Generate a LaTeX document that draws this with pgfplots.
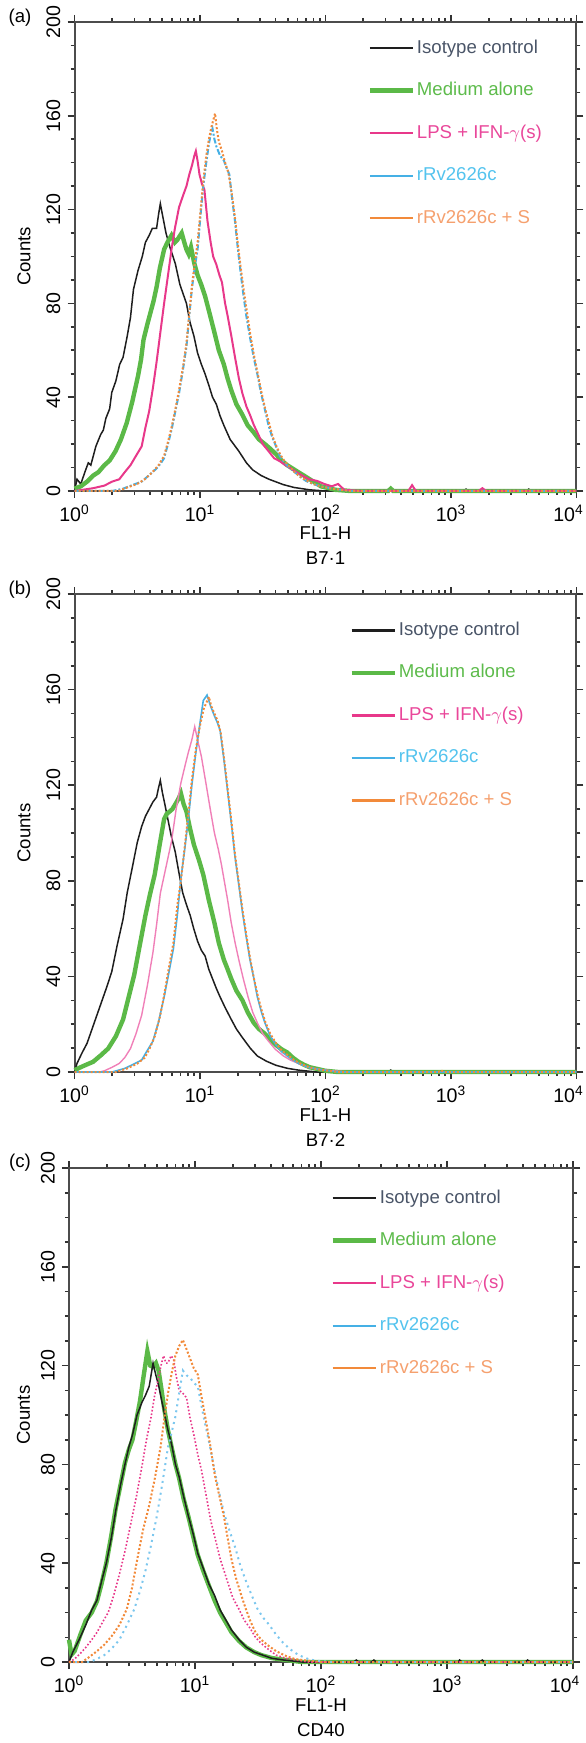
\documentclass[border=0pt]{standalone}
\usepackage{fontspec}
\setmainfont{Liberation Sans}
\usepackage{pgfplots}
\pgfplotsset{compat=1.18}

\definecolor{cBlack}{HTML}{1E1E1E}
\definecolor{cGreen}{HTML}{5BB947}
\definecolor{cPink}{HTML}{E8388A}
\definecolor{cPinkL}{HTML}{F080B8}
\definecolor{cBlue}{HTML}{45B0E5}
\definecolor{cBlueL}{HTML}{7CC7EE}
\definecolor{cOrange}{HTML}{F28A3A}
\definecolor{tIso}{HTML}{4A5568}
\definecolor{tMed}{HTML}{5DBB4B}
\definecolor{tLps}{HTML}{E9479A}
\definecolor{tRv}{HTML}{53C3EE}
\definecolor{tRvS}{HTML}{F5A06E}

\newcommand{\fsz}{\fontsize{9.3}{11}\selectfont}

\pgfplotsset{
  facs/.style={
    scale only axis,
    xmin=0, xmax=4, ymin=0, ymax=200,
    xtick={0,1,2,3,4},
    xticklabels={10\textsuperscript{0},10\textsuperscript{1},10\textsuperscript{2},10\textsuperscript{3},10\textsuperscript{4}\hspace*{8pt}},
    minor xtick={0.301,0.477,0.602,0.699,0.778,0.845,0.903,0.954,
                 1.301,1.477,1.602,1.699,1.778,1.845,1.903,1.954,
                 2.301,2.477,2.602,2.699,2.778,2.845,2.903,2.954,
                 3.301,3.477,3.602,3.699,3.778,3.845,3.903,3.954},
    ytick={0,40,80,120,160,200},
    minor y tick num=3,
    tick align=outside,
    major tick length=3.5pt, minor tick length=2pt,
    tick style={color=gray!40!black, line width=0.8pt},
    axis line style={color=gray!60!black, line width=1pt},
    /pgf/number format/assume math mode=true,
    tick label style={font=\fontsize{9.8}{11}\selectfont},
    yticklabel style={rotate=90, anchor=south},
    label style={font=\fsz},
    ylabel={Counts},
    clip=false,
    legend cell align=left,
    legend image code/.code={\draw[##1] (0pt,0pt) -- (21.5pt,0pt);},
    legend style={draw=none, fill=none, anchor=west, inner sep=0pt,
      row sep=10.25pt, font=\fsz,
      nodes={text height=7pt, text depth=2pt, inner sep=1pt}},
  }
}

\begin{document}
\begin{tikzpicture}
\useasboundingbox (0,0) rectangle (292.5pt,-871.5pt);

% ---------------- (a) B7-1 ----------------
\begin{axis}[facs, at={(37.25pt,-11pt)}, anchor=north west,
  width=251pt, height=234.5pt,
  ylabel style={at={(axis description cs:-0.1006,0.5)}, anchor=center},
  legend style={at={(axis description cs:0.583,0.763)}}]
\addlegendimage{cBlack, line width=1.3pt}
\addlegendentry{\textcolor{tIso}{Isotype control}}
\addlegendimage{cGreen, line width=2.2pt}
\addlegendentry{\textcolor{tMed}{Medium alone}}
\addlegendimage{cPink, line width=1.2pt}
\addlegendentry{\textcolor{tLps}{LPS + IFN-$\gamma$(s)}}
\addlegendimage{cBlue, line width=1pt}
\addlegendentry{\textcolor{tRv}{rRv2626c}}
\addlegendimage{cOrange, line width=1.2pt}
\addlegendentry{\textcolor{tRvS}{rRv2626c + S}}

\addplot[cBlack, line width=0.75pt, forget plot] coordinates {
(0,0) (0.02,5) (0.05,3) (0.089,9) (0.11,12) (0.13,11) (0.17,19) (0.208,24) (0.23,26) (0.25,31) (0.28,35) (0.297,42) (0.33,47) (0.36,54) (0.387,57) (0.42,66) (0.446,74) (0.47,86) (0.506,94) (0.54,100) (0.565,106) (0.595,109) (0.62,112) (0.654,112) (0.67,118) (0.684,122.5) (0.70,118) (0.729,110) (0.76,104) (0.803,97) (0.84,88) (0.892,80) (0.92,72) (0.952,66) (0.98,59) (1.011,54) (1.04,50) (1.071,45) (1.10,40) (1.130,37) (1.16,32) (1.190,28) (1.24,22) (1.309,17) (1.37,12) (1.42,9) (1.487,6.6) (1.55,5) (1.60,4) (1.665,2.7) (1.75,1.5) (1.874,0.5) (2.0,0) (3.1,0) (3.12,0.8) (3.14,0) (3.6,0) (3.62,0.8) (3.64,0) (4,0)};
\addplot[cGreen, line width=2.2pt, forget plot] coordinates {
(0,1) (0.05,2) (0.10,4) (0.149,6.6) (0.19,8) (0.238,11) (0.28,13) (0.327,17) (0.37,22) (0.416,29) (0.46,38) (0.506,49) (0.53,56) (0.55,64.5) (0.58,71) (0.61,77) (0.63,81) (0.654,87) (0.68,95) (0.714,103) (0.74,106) (0.773,109) (0.80,106) (0.818,107) (0.854,110) (0.875,106) (0.892,103) (0.91,101) (0.928,104) (0.955,97) (0.981,92) (1.01,88) (1.041,83) (1.08,75) (1.115,67.6) (1.15,60) (1.19,54) (1.22,48) (1.249,43) (1.29,37) (1.338,32.5) (1.38,28) (1.428,25) (1.47,22) (1.517,20) (1.56,18) (1.606,15.7) (1.65,13) (1.695,11) (1.74,9.5) (1.784,8) (1.83,6.5) (1.874,5) (1.92,3.5) (1.963,2) (2.08,0.5) (2.2,0) (2.5,0) (2.52,1) (2.54,0) (4,0)};
\addplot[cPink, line width=1pt, forget plot] coordinates {
(0,0) (0.149,1.2) (0.238,2.3) (0.30,4) (0.357,5) (0.40,8) (0.446,11) (0.49,15) (0.535,19) (0.565,27) (0.595,34) (0.625,44) (0.654,55) (0.685,68) (0.714,80) (0.745,92) (0.773,103) (0.80,112) (0.833,121) (0.865,126) (0.892,130) (0.915,135) (0.937,139) (0.955,143) (0.967,145) (0.98,141) (0.996,135) (1.015,131) (1.035,128.6) (1.06,115) (1.085,106) (1.105,100) (1.13,96.6) (1.155,92) (1.175,89) (1.20,80) (1.219,75) (1.25,66) (1.279,57) (1.31,48) (1.338,41.6) (1.37,36) (1.398,32.5) (1.43,28) (1.457,25) (1.50,20) (1.546,17) (1.59,14) (1.636,12.7) (1.68,11) (1.725,9.6) (1.77,8) (1.814,6.6) (1.87,5) (1.933,4.3) (1.99,3) (2.05,2) (2.1,3) (2.15,0.5) (2.3,0) (2.66,0) (2.69,2.5) (2.72,0) (3.22,0) (3.25,1.2) (3.28,0) (4,0)};
\addplot[cBlue, line width=1pt, dash pattern=on 3pt off 1pt on 1pt off 1pt, forget plot] coordinates {
(0,0) (0.3,0) (0.387,1) (0.46,2.5) (0.535,4) (0.60,7) (0.654,9.6) (0.69,12) (0.714,14) (0.745,20) (0.773,26) (0.80,33) (0.833,41.6) (0.865,52) (0.892,61.5) (0.915,75) (0.937,87) (0.96,96) (0.981,103) (1.005,118) (1.026,130) (1.05,140) (1.071,148) (1.085,152) (1.10,154.5) (1.115,150) (1.13,147) (1.16,143) (1.19,141) (1.21,138) (1.234,135) (1.255,125) (1.279,115) (1.30,104) (1.323,93.5) (1.345,84) (1.368,75) (1.40,65) (1.428,57) (1.46,49) (1.487,41.6) (1.52,34) (1.546,28) (1.575,23) (1.606,19) (1.635,15) (1.665,12.7) (1.71,10) (1.755,8) (1.80,6) (1.844,4.3) (1.90,3) (1.963,2) (2.08,0.8) (2.2,0) (4,0)};
\addplot[cOrange, line width=1pt, densely dotted, forget plot] coordinates {
(0,0) (0.35,0) (0.42,1.5) (0.50,3) (0.56,5) (0.62,8) (0.67,11) (0.714,15) (0.745,21) (0.773,27) (0.80,34) (0.833,43) (0.865,53) (0.892,63) (0.915,76) (0.937,88) (0.96,98) (0.981,106) (1.005,120) (1.026,132) (1.05,143) (1.071,150) (1.09,155) (1.105,158) (1.12,161) (1.135,154) (1.15,149) (1.175,145) (1.20,140) (1.225,136) (1.25,128) (1.28,116) (1.30,106) (1.325,95) (1.35,85) (1.375,76) (1.40,67) (1.43,58) (1.46,50) (1.49,42) (1.52,35) (1.55,29) (1.58,23) (1.61,19) (1.64,15.5) (1.67,13) (1.71,10.5) (1.755,8) (1.80,6) (1.85,4.5) (1.90,3) (1.96,2) (2.05,1) (2.2,0) (4,0)};
\node[font=\fsz] at (axis description cs:-0.1086,1.0085) {(a)};
\node[font=\fsz, anchor=base] at ([yshift=-24.5pt]axis description cs:0.5,0) {FL1-H};
\node[font=\fsz, anchor=base] at ([yshift=-37pt]axis description cs:0.5,0) {B7·1};
\end{axis}

% ---------------- (b) B7-2 ----------------
\begin{axis}[facs, at={(37.25pt,-297pt)}, anchor=north west,
  width=251pt, height=239pt,
  ylabel style={at={(axis description cs:-0.1006,0.5)}, anchor=center},
  legend style={at={(axis description cs:0.547,0.746)}}]
\addlegendimage{cBlack, line width=1.3pt}
\addlegendentry{\textcolor{tIso}{Isotype control}}
\addlegendimage{cGreen, line width=2.2pt}
\addlegendentry{\textcolor{tMed}{Medium alone}}
\addlegendimage{cPink, line width=1.2pt}
\addlegendentry{\textcolor{tLps}{LPS + IFN-$\gamma$(s)}}
\addlegendimage{cBlue, line width=1pt}
\addlegendentry{\textcolor{tRv}{rRv2626c}}
\addlegendimage{cOrange, line width=1.2pt}
\addlegendentry{\textcolor{tRvS}{rRv2626c + S}}

\addplot[cBlack, line width=0.75pt, forget plot] coordinates {
(0,0) (0.02,3.6) (0.06,8) (0.10,12) (0.14,18) (0.178,23.7) (0.22,30) (0.26,36) (0.297,42) (0.34,53) (0.387,64) (0.42,75) (0.461,85.7) (0.50,96) (0.535,102.7) (0.565,107) (0.595,110) (0.625,113) (0.654,115) (0.67,119) (0.684,122) (0.70,117) (0.72,112) (0.743,106) (0.77,99) (0.803,92) (0.83,84) (0.862,75) (0.892,70) (0.922,65.5) (0.95,60) (0.981,54.7) (1.01,51) (1.041,48.5) (1.07,43) (1.10,39) (1.13,35) (1.16,31.4) (1.20,27) (1.249,22) (1.29,18) (1.338,14.4) (1.40,10) (1.457,6.7) (1.53,4.5) (1.606,2.8) (1.70,1.5) (1.784,0.8) (1.93,0) (2.5,0) (2.52,0.8) (2.54,0) (4,0)};
\addplot[cGreen, line width=2.2pt, forget plot] coordinates {
(0,0.8) (0.07,2.5) (0.149,4.3) (0.21,7) (0.268,9.8) (0.33,15) (0.387,22) (0.43,31) (0.476,40.7) (0.52,53) (0.565,65.5) (0.60,74) (0.639,82.6) (0.675,94) (0.714,105.8) (0.735,108) (0.758,109) (0.78,110) (0.803,112) (0.825,114) (0.848,116.6) (0.87,112) (0.892,109) (0.92,102) (0.952,95) (0.99,89) (1.026,82.6) (1.07,72) (1.115,62.4) (1.15,54) (1.19,47) (1.22,43) (1.249,39) (1.29,34) (1.338,30) (1.38,25) (1.428,20.6) (1.47,18) (1.517,16) (1.56,13.5) (1.606,11.3) (1.65,9.5) (1.695,8.2) (1.74,6) (1.784,4.3) (1.83,3) (1.874,2) (2.0,0.5) (2.1,0) (4,0)};
\addplot[cPinkL, line width=0.7pt, forget plot] coordinates {
(0,0) (0.20,0) (0.238,0.5) (0.30,2) (0.357,3.6) (0.40,6) (0.446,9.8) (0.49,16) (0.535,23.7) (0.58,36) (0.625,50) (0.655,62) (0.684,74.8) (0.73,86) (0.773,96.5) (0.81,110) (0.848,121) (0.88,128) (0.907,133.7) (0.935,139) (0.958,144.5) (0.985,138) (1.011,132) (1.05,120) (1.085,109) (1.115,100) (1.145,93.4) (1.17,87) (1.19,81) (1.22,72) (1.249,62.4) (1.28,54) (1.309,47) (1.345,39) (1.383,31.4) (1.42,25) (1.457,20.6) (1.50,16) (1.546,12.9) (1.60,9.5) (1.665,6.7) (1.72,5) (1.784,3.6) (1.86,2) (1.933,1.2) (2.05,0.5) (2.2,0) (4,0)};
\addplot[cBlue, line width=0.8pt, forget plot] coordinates {
(0,0) (0.30,0) (0.40,1.5) (0.46,3) (0.535,5) (0.58,9) (0.625,12.9) (0.67,21) (0.714,31.4) (0.75,41) (0.788,51.6) (0.82,66) (0.848,81) (0.88,94) (0.907,105.8) (0.935,120) (0.967,133.7) (1.0,146) (1.026,155.4) (1.056,157.7) (1.085,153) (1.115,149) (1.14,146) (1.16,143) (1.19,131) (1.219,118) (1.25,104) (1.279,90) (1.31,78) (1.338,67) (1.37,56) (1.398,47) (1.43,39) (1.457,31.4) (1.49,25) (1.517,20.6) (1.56,15) (1.606,11.3) (1.65,8.5) (1.695,6.7) (1.74,5) (1.784,3.6) (1.86,2) (1.95,1.1) (2.1,0) (4,0)};
\addplot[cOrange, line width=1pt, densely dotted, forget plot] coordinates {
(0,0) (0.33,0) (0.42,1.5) (0.50,3.5) (0.56,6) (0.60,10) (0.64,15) (0.68,23) (0.714,32) (0.75,43) (0.788,54) (0.82,70) (0.848,80) (0.88,95) (0.907,108) (0.935,122) (0.967,135) (1.0,145) (1.03,152) (1.071,157) (1.09,153) (1.115,150) (1.14,147) (1.165,142) (1.19,132) (1.219,119) (1.25,105) (1.279,91) (1.31,79) (1.338,68) (1.37,57) (1.398,48) (1.43,39) (1.46,32) (1.49,26) (1.52,21) (1.56,16) (1.606,12) (1.65,9) (1.70,7) (1.75,5) (1.80,3.5) (1.87,2) (1.95,1) (2.1,0) (2.9,0) (2.92,0.8) (2.94,0) (4,0)};
\node[font=\fsz] at (axis description cs:-0.1086,1.0084) {(b)};
\node[font=\fsz, anchor=base] at ([yshift=-24.5pt]axis description cs:0.5,0) {FL1-H};
\node[font=\fsz, anchor=base] at ([yshift=-37pt]axis description cs:0.5,0) {B7·2};
\end{axis}

% ---------------- (c) CD40 ----------------
\begin{axis}[facs, at={(34.5pt,-584pt)}, anchor=north west,
  width=252pt, height=247pt,
  ylabel style={at={(axis description cs:-0.0903,0.5)}, anchor=center},
  legend style={at={(axis description cs:0.518,0.767)}}]
\addlegendimage{cBlack, line width=1.3pt}
\addlegendentry{\textcolor{tIso}{Isotype control}}
\addlegendimage{cGreen, line width=2.2pt}
\addlegendentry{\textcolor{tMed}{Medium alone}}
\addlegendimage{cPink, line width=1.2pt}
\addlegendentry{\textcolor{tLps}{LPS + IFN-$\gamma$(s)}}
\addlegendimage{cBlue, line width=1pt}
\addlegendentry{\textcolor{tRv}{rRv2626c}}
\addlegendimage{cOrange, line width=1.2pt}
\addlegendentry{\textcolor{tRvS}{rRv2626c + S}}

\addplot[cGreen, line width=2.2pt, forget plot] coordinates {
(0,9) (0.02,3) (0.044,4.4) (0.09,11) (0.133,16.8) (0.18,20) (0.222,24.6) (0.26,32) (0.296,40) (0.335,51) (0.37,62) (0.41,72) (0.444,80.6) (0.475,86) (0.504,90) (0.535,98) (0.563,105.5) (0.59,115) (0.622,125.8) (0.645,120) (0.667,119.5) (0.69,121) (0.711,118) (0.735,110) (0.756,102.4) (0.785,94) (0.815,86.8) (0.845,80) (0.874,74.4) (0.91,66) (0.948,58.8) (0.985,51) (1.022,43.3) (1.065,37) (1.111,30.8) (1.155,25) (1.2,19.9) (1.245,16) (1.289,12.1) (1.35,8.5) (1.407,5.9) (1.47,4) (1.526,2.8) (1.61,1.6) (1.704,0.9) (1.85,0) (4,0)};
\addplot[cBlack, line width=0.75pt, forget plot] coordinates {
(0,0) (0.03,4) (0.08,9) (0.133,15) (0.18,21) (0.222,25) (0.26,33) (0.296,40) (0.335,50) (0.37,61) (0.41,72) (0.444,80) (0.475,87) (0.504,92) (0.54,100) (0.578,105) (0.607,108) (0.637,111.7) (0.667,121) (0.69,116) (0.711,112) (0.735,106) (0.756,101) (0.785,94) (0.815,88) (0.845,80) (0.874,75) (0.91,67) (0.948,59) (0.985,52) (1.022,44) (1.065,38) (1.111,31.5) (1.155,27) (1.2,21) (1.245,17) (1.289,13) (1.35,9) (1.407,6) (1.47,4) (1.526,3) (1.61,1.5) (1.704,0.8) (1.85,0) (2.26,0) (2.28,0.8) (2.30,0) (2.40,0) (2.42,0.8) (2.44,0) (3.09,0) (3.1,0.8) (3.12,0) (3.26,0) (3.28,0.8) (3.30,0) (3.62,0) (3.64,0.8) (3.66,0) (4,0)};
\addplot[cPink, line width=0.8pt, densely dotted, forget plot] coordinates {
(0,0) (0.044,1.2) (0.09,3.5) (0.133,5.9) (0.18,9) (0.222,12) (0.265,16) (0.311,20) (0.355,27) (0.4,35.5) (0.445,45) (0.489,55.7) (0.535,67) (0.578,79) (0.615,90) (0.652,99.3) (0.68,108) (0.711,115) (0.73,120) (0.75,124) (0.77,121) (0.785,121) (0.81,124) (0.83,122.6) (0.85,116) (0.874,110) (0.90,109) (0.933,107) (0.96,99) (0.993,91.5) (1.022,84) (1.052,77.5) (1.09,67) (1.126,57) (1.165,49) (1.2,41.7) (1.23,37) (1.259,32.4) (1.30,26) (1.348,21.5) (1.39,17) (1.437,13.7) (1.48,10) (1.526,7.5) (1.585,5) (1.644,2.8) (1.72,1.5) (1.793,0.9) (1.9,0) (4,0)};
\addplot[cBlueL, line width=1pt, dotted, forget plot] coordinates {
(0,0) (0.163,0) (0.22,1.2) (0.281,2.8) (0.34,5.5) (0.4,9) (0.46,15) (0.519,21.5) (0.565,29) (0.607,37) (0.65,47) (0.696,58.8) (0.74,72) (0.785,86.8) (0.815,93) (0.844,99.3) (0.875,109) (0.904,118) (0.935,116) (0.963,115) (0.99,113) (1.022,111.7) (1.05,104) (1.081,96.2) (1.12,87) (1.156,77.5) (1.19,69) (1.23,60.4) (1.275,53) (1.319,46.4) (1.36,39) (1.407,32.4) (1.45,27) (1.496,21.5) (1.54,18) (1.585,15.3) (1.645,11) (1.704,7.5) (1.76,5) (1.822,2.8) (1.90,1.2) (1.963,0.5) (2.1,0) (4,0)};
\addplot[cOrange, line width=1pt, densely dotted, forget plot] coordinates {
(0,0) (0.104,0) (0.16,2) (0.222,4.4) (0.28,7) (0.341,10.6) (0.40,15) (0.459,21.5) (0.50,30) (0.548,43.3) (0.59,54) (0.637,63.5) (0.68,74) (0.726,86.8) (0.755,98) (0.785,108.6) (0.815,117) (0.844,124) (0.875,128) (0.904,130.4) (0.93,127) (0.963,122.6) (0.99,119) (1.022,116.4) (1.05,108) (1.081,99.3) (1.12,88) (1.156,76) (1.19,68) (1.23,58.8) (1.26,50) (1.289,41.7) (1.325,34) (1.363,27.7) (1.40,22) (1.437,16.8) (1.48,12) (1.526,9) (1.585,6.5) (1.644,4.4) (1.72,2.5) (1.793,1.2) (1.94,0.3) (2.0,0) (4,0)};
\node[font=\fsz] at (axis description cs:-0.0972,1.0101) {(c)};
\node[font=\fsz, anchor=base] at ([yshift=-24.5pt]axis description cs:0.5,0) {FL1-H};
\node[font=\fsz, anchor=base] at ([yshift=-37pt]axis description cs:0.5,0) {CD40};
\end{axis}
\end{tikzpicture}
\end{document}
